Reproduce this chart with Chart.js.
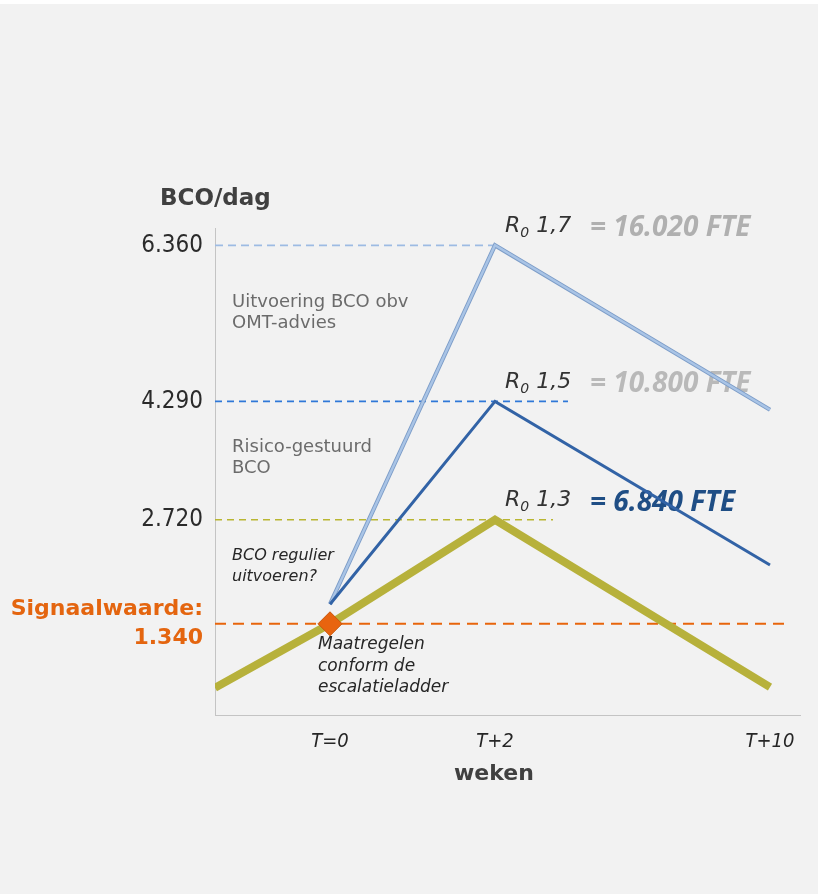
<!DOCTYPE html>
<html>
<head>
<meta charset="utf-8">
<script src="https://cdn.jsdelivr.net/npm/chart.js@4.4.1/dist/chart.umd.min.js"></script>
<style>
html,body{margin:0;padding:0;background:#ffffff;overflow:hidden}
#wrap{position:absolute;left:0;top:0;width:823px;height:894px}
</style>
</head>
<body>
<div id="wrap"><canvas id="c" width="823" height="894"></canvas></div>
<script>
// ---- data ----
const xTickLabels = ['T=0', 'T+2', 'T+10'];
const xTickPositions = [19.66, 47.86, 94.87];   // position along the (non-linear) time axis, 0..100
const xStart = 0;
const yTickValues = [6360, 4290, 2720];
const yTickLabels = ['6.360', '4.290', '2.720'];
const signalValue = 1340;
const signalLabel = ['Signaalwaarde:', '1.340'];
const seriesR17 = [1600, 6360, 4180];            // at T=0, T+2, T+10
const seriesR15 = [1600, 4290, 2120];
const seriesR13Start = 490;
const seriesR13 = [1340, 2720, 500];
const refLineValues = [6360, 4290, 2720, 1340];
const refLineEnds = [47.86, 60.34, 57.78, 97.78];
const r0Values = ['1,7', '1,5', '1,3'];
const fteLabels = ['= 16.020 FTE', '= 10.800 FTE', '= 6.840 FTE'];

// ---- styles ----
const refColors = ['#9dbbe3', '#2f78d8', '#b9b632', '#e8650c'];
const refDash = [[8, 5], [7, 5], [7, 5], [11, 7]];
const refWidth = [1.6, 1.6, 1.6, 2];
const fteColors = ['#b0b0b0', '#b9b9b9', '#1f4e85'];

function pts(xs, ys) { return xs.map((x, i) => ({x: x, y: ys[i]})); }

const datasets = [];
// diamond on top
datasets.push({
  data: [{x: xTickPositions[0], y: signalValue}],
  showLine: false, pointStyle: 'rectRot', pointRadius: 12,
  pointBackgroundColor: '#e8640f', pointBorderColor: '#c9560b', pointBorderWidth: 1
});
// R0 1,3 (thick olive)
datasets.push({
  data: [{x: xStart, y: seriesR13Start}].concat(pts(xTickPositions, seriesR13)),
  borderColor: '#b7b13b', borderWidth: 8, pointRadius: 0, tension: 0
});
// R0 1,5 (blue)
datasets.push({
  data: pts(xTickPositions, seriesR15),
  borderColor: '#3263a6', borderWidth: 3, pointRadius: 0, tension: 0
});
// R0 1,7 (light blue with darker edge)
datasets.push({
  data: pts(xTickPositions, seriesR17),
  borderColor: '#a9c4e6', borderWidth: 2.4, pointRadius: 0, tension: 0
});
datasets.push({
  data: pts(xTickPositions, seriesR17),
  borderColor: '#7d9dc8', borderWidth: 4.2, pointRadius: 0, tension: 0
});
// dashed reference lines
refLineValues.forEach((v, i) => {
  datasets.push({
    data: [{x: xStart, y: v}, {x: refLineEnds[i], y: v}],
    borderColor: refColors[i], borderWidth: refWidth[i], borderDash: refDash[i],
    pointRadius: 0, tension: 0
  });
});

const bgPlugin = {
  id: 'bg',
  beforeDraw(chart) {
    const ctx = chart.ctx;
    ctx.save();
    ctx.fillStyle = '#ffffff';
    ctx.fillRect(0, 0, chart.width, chart.height);
    ctx.fillStyle = '#f2f2f2';
    ctx.fillRect(0, 4, 818, 890);
    ctx.restore();
  }
};

function txt(ctx, s, x, y, font, color, align) {
  ctx.font = font;
  ctx.fillStyle = color;
  ctx.textAlign = align || 'left';
  ctx.textBaseline = 'middle';
  ctx.fillText(s, x, y);
}

const textPlugin = {
  id: 'texts',
  beforeDatasetsDraw(chart) {
    const ctx = chart.ctx;
    const xs = chart.scales.x, ys = chart.scales.y;
    const a = chart.chartArea;
    ctx.save();
    // axis titles
    txt(ctx, 'BCO/dag', 160, 199, 'bold 23px "DejaVu Sans"', '#404040');
    txt(ctx, 'weken', xs.getPixelForValue(xTickPositions[1]) - 1, 774, 'bold 22px "DejaVu Sans"', '#404040', 'center');
    // notes
    const nx = a.left + 17;
    const noteFont = '18px "DejaVu Sans"';
    txt(ctx, 'Uitvoering BCO obv', nx, 302, noteFont, '#6b6b6b');
    txt(ctx, 'OMT-advies', nx, 323, noteFont, '#6b6b6b');
    txt(ctx, 'Risico-gestuurd', nx, 447, noteFont, '#6b6b6b');
    txt(ctx, 'BCO', nx, 468, noteFont, '#6b6b6b');
    const itFont = 'oblique 16px "DejaVu Sans"';
    txt(ctx, 'BCO regulier', nx, 556, itFont, '#262626');
    txt(ctx, 'uitvoeren?', nx, 577, itFont, '#262626');
    const mx = xs.getPixelForValue(xTickPositions[0]) - 12;
    const mFont = 'oblique 17px "DejaVu Sans"';
    txt(ctx, 'Maatregelen', mx, 645, mFont, '#262626');
    txt(ctx, 'conform de', mx, 667, mFont, '#262626');
    txt(ctx, 'escalatieladder', mx, 688, mFont, '#262626');
    // R0 labels
    const peaks = [seriesR17[1], seriesR15[1], seriesR13[1]];
    const px = xs.getPixelForValue(xTickPositions[1]) + 10;
    peaks.forEach((p, i) => {
      const py = ys.getPixelForValue(p) - 19;
      const f1 = 'oblique 22px "DejaVu Sans"';
      txt(ctx, 'R', px, py, f1, '#333333');
      const w1 = ctx.measureText('R').width;
      txt(ctx, '0', px + w1, py + 7, 'oblique 14px "DejaVu Sans"', '#333333');
      const w2 = ctx.measureText('0').width;
      txt(ctx, ' ' + r0Values[i], px + w1 + w2, py, f1, '#333333');
      txt(ctx, fteLabels[i], px + 85, py + 2, 'italic bold 28px "Open Sans"', fteColors[i]);
    });
    ctx.restore();
  }
};

new Chart(document.getElementById('c'), {
  type: 'line',
  data: {datasets: datasets},
  options: {
    responsive: false,
    animation: false,
    events: [],
    layout: {padding: {top: 228, right: 23, left: 0, bottom: 0}},
    plugins: {legend: {display: false}, tooltip: {enabled: false}},
    scales: {
      x: {
        type: 'linear', min: 0, max: 100,
        afterBuildTicks: (s) => { s.ticks = xTickPositions.map(v => ({value: v})); },
        afterFit: (s) => { s.height = 179; },
        grid: {display: false, drawTicks: false},
        border: {display: true, color: '#c4c4c4', width: 1},
        ticks: {
          autoSkip: false, maxRotation: 0, padding: 15,
          color: '#262626',
          font: {family: '"Liberation Sans Narrow", "DejaVu Sans Condensed", sans-serif', size: 20, style: 'italic'},
          callback: (v, i) => xTickLabels[i]
        }
      },
      y: {
        type: 'linear', min: 130, max: 6590,
        afterBuildTicks: (s) => { s.ticks = yTickValues.concat([signalValue]).map(v => ({value: v})); },
        afterFit: (s) => { s.width = 215; },
        grid: {display: false, drawTicks: false},
        border: {display: true, color: '#c4c4c4', width: 1},
        ticks: {
          padding: 12,
          color: (c) => (c.tick && c.tick.value === signalValue) ? '#e4650f' : '#2b2b2b',
          font: (c) => (c.tick && c.tick.value === signalValue)
            ? {family: '"DejaVu Sans"', size: 22, weight: 'bold', lineHeight: 1.32}
            : {family: '"Liberation Sans Narrow", "DejaVu Sans Condensed", sans-serif', size: 24},
          callback: (v) => v === signalValue ? signalLabel : yTickLabels[yTickValues.indexOf(v)]
        }
      }
    }
  },
  plugins: [bgPlugin, textPlugin]
});
</script>
</body>
</html>
